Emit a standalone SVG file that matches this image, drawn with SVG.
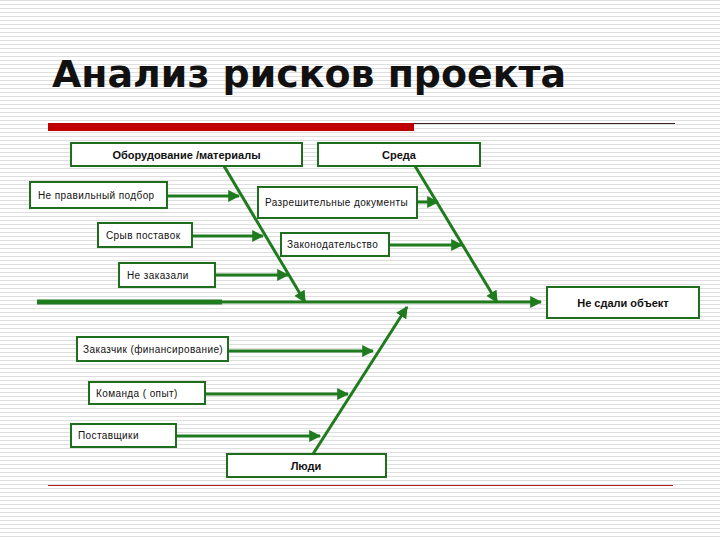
<svg xmlns="http://www.w3.org/2000/svg" width="720" height="540" viewBox="0 0 720 540">
<defs>
<pattern id="stripes" width="8" height="4" patternUnits="userSpaceOnUse">
<rect width="8" height="4" fill="#ffffff"/>
<rect y="0" width="8" height="1" fill="#dedede"/>
</pattern>
<marker id="arr" viewBox="0 0 10 10" refX="9" refY="5" markerWidth="4" markerHeight="4" orient="auto" markerUnits="strokeWidth">
<path d="M0,0 L10,5 L0,10 z" fill="#1e7b1e"/>
</marker>
</defs>
<style>
.box{fill:#ffffff;stroke:#1e6e1e;stroke-width:2}
.t{font-family:"Liberation Sans",Arial,sans-serif;font-size:10px;fill:#111;letter-spacing:0.4px}
.b{font-family:"Liberation Sans",Arial,sans-serif;font-size:11px;font-weight:bold;fill:#111}
.c{stroke:#1e7b1e;stroke-width:3;fill:none;marker-end:url(#arr)}
</style>
<rect width="720" height="540" fill="url(#stripes)"/>
<text x="52" y="87" font-family="DejaVu Sans,Liberation Sans,sans-serif" font-stretch="condensed" font-size="38" font-weight="bold" fill="#111" textLength="514" lengthAdjust="spacingAndGlyphs">Анализ рисков проекта</text>
<rect x="48" y="123" width="366" height="8" fill="#c00000"/>
<line x1="414" y1="123.5" x2="675" y2="123.5" stroke="#3a2020" stroke-width="1"/>
<line x1="48" y1="485.5" x2="673" y2="485.5" stroke="#b02020" stroke-width="1.2"/>

<g id="connectors">
<line x1="37" y1="302" x2="222" y2="302" stroke="#1e7b1e" stroke-width="5"/>
<line class="c" x1="220" y1="302" x2="541" y2="302"/>
<line class="c" x1="224" y1="166" x2="305" y2="302"/>
<line class="c" x1="415" y1="166" x2="497" y2="302"/>
<line class="c" x1="313" y1="454" x2="407" y2="307"/>
<line class="c" x1="167" y1="196" x2="239" y2="196"/>
<line class="c" x1="192" y1="236" x2="263" y2="236"/>
<line class="c" x1="215" y1="275" x2="288" y2="275"/>
<line class="c" x1="418" y1="202" x2="438" y2="202"/>
<line class="c" x1="389" y1="245" x2="462" y2="245"/>
<line class="c" x1="228" y1="351" x2="373" y2="351"/>
<line class="c" x1="205" y1="394" x2="348" y2="394"/>
<line class="c" x1="176" y1="436" x2="320" y2="436"/>
</g>

<g id="n-equipment"><rect class="box" x="71" y="143" width="231" height="23"/><text class="b" x="186.5" y="159" text-anchor="middle">Оборудование /материалы</text></g>
<g id="n-env"><rect class="box" x="318" y="143" width="162" height="23"/><text class="b" x="399" y="159" text-anchor="middle">Среда</text></g>
<g id="n-wrong"><rect class="box" x="30" y="182" width="137" height="26"/><text class="t" x="38" y="199">Не правильный подбор</text></g>
<g id="n-permits"><rect class="box" x="258" y="187" width="159" height="31"/><text class="t" x="265" y="206">Разрешительные документы</text></g>
<g id="n-supply"><rect class="box" x="98" y="223" width="94" height="24"/><text class="t" x="106" y="239">Срыв поставок</text></g>
<g id="n-law"><rect class="box" x="281" y="233" width="108" height="23"/><text class="t" x="287" y="248">Законодательство</text></g>
<g id="n-notordered"><rect class="box" x="119" y="263" width="96" height="24"/><text class="t" x="127" y="279">Не заказали</text></g>
<g id="n-result"><rect class="box" x="547" y="287" width="152" height="31"/><text class="b" x="623" y="307" text-anchor="middle">Не сдали объект</text></g>
<g id="n-customer"><rect class="box" x="77" y="337" width="151" height="24"/><text class="t" x="83" y="353">Заказчик (финансирование)</text></g>
<g id="n-team"><rect class="box" x="89" y="382" width="116" height="22"/><text class="t" x="96" y="397">Команда ( опыт)</text></g>
<g id="n-suppliers"><rect class="box" x="71" y="424" width="105" height="23"/><text class="t" x="78" y="439">Поставщики</text></g>
<g id="n-people"><rect class="box" x="227" y="454" width="159" height="23"/><text class="b" x="306" y="470" text-anchor="middle">Люди</text></g>
</svg>
